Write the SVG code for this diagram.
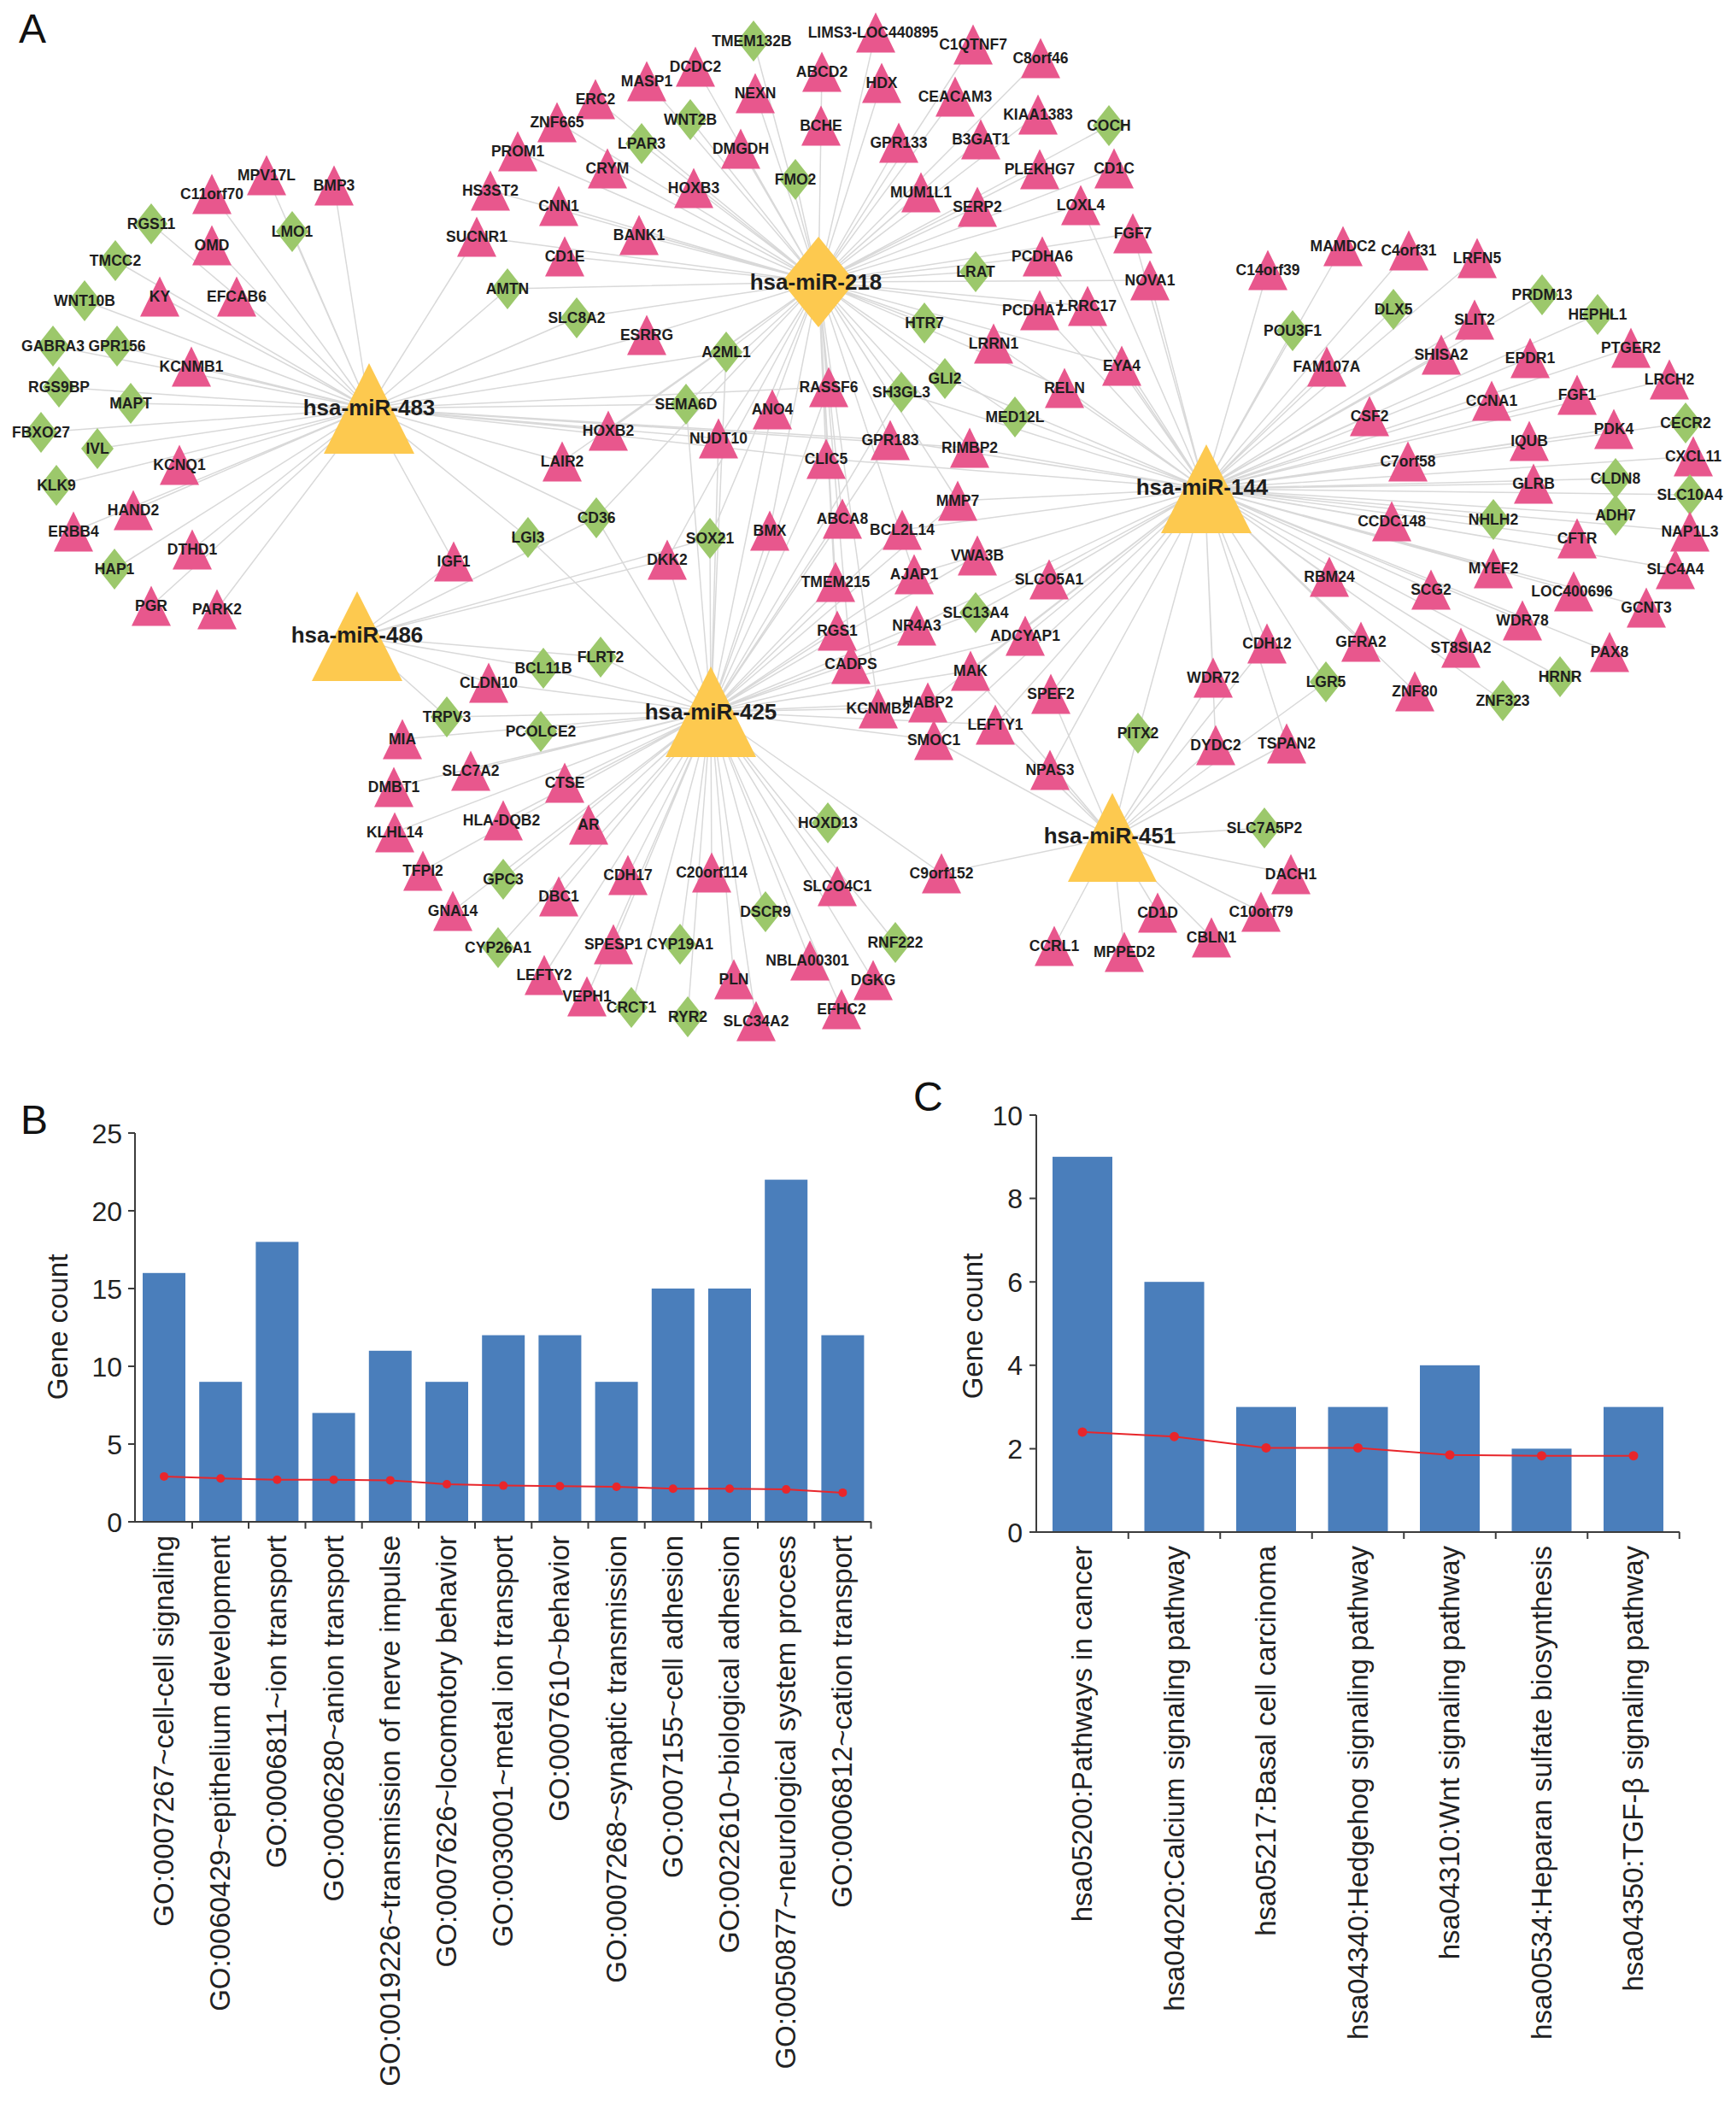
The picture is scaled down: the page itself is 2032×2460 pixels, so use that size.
<svg xmlns="http://www.w3.org/2000/svg" xmlns:xlink="http://www.w3.org/1999/xlink" width="2032" height="2460" viewBox="0 0 2032 2460">
<style>
.l{font:700 17.5px "Liberation Sans",Arial,sans-serif;text-anchor:middle;fill:#1e1e1e}
.h{font:700 26px "Liberation Sans",Arial,sans-serif;text-anchor:middle;fill:#1e1e1e}
.e{fill:none;stroke:#d9d9d9;stroke-width:1.5}
.ax{fill:none;stroke:#3c3c3c;stroke-width:2}
.tk{font:32px "Liberation Sans",Arial,sans-serif;fill:#222;text-anchor:end}
.cl{font:33px "Liberation Sans",Arial,sans-serif;fill:#222;text-anchor:end}
.gc{font:33px "Liberation Sans",Arial,sans-serif;fill:#222;text-anchor:middle}
.pl{font:48px "Liberation Sans",Arial,sans-serif;fill:#111}
.bar{fill:#4A7EBB}
.rl{fill:none;stroke:#E8262B;stroke-width:2}
.rd{fill:#E8262B}
.hub{fill:#FDC94F}
</style>
<defs>
<path id="t" d="M0-23.5L23 23.5L-23 23.5Z" fill="#E8578D"/>
<path id="d" d="M0-24L19 0L0 24L-19 0Z" fill="#9CC86B"/>
</defs>
<rect width="2032" height="2460" fill="#fff"/>
<text class="pl" x="22" y="50">A</text>
<g id="connectors">
<path class="e" d="M958 330L882 48M958 330L1025 38M958 330L1139 52M958 330L1218 68M958 330L814 78M958 330L757 95M958 330L962 84M958 330L1032 97M958 330L884 109M958 330L697 116M958 330L1118 113M958 330L652 143M958 330L808 140M958 330L1215 134M958 330L1298 147M958 330L961 147M958 330L606 177M958 330L751 168M958 330L867 174M958 330L1052 167M958 330L1148 163M958 330L711 197M958 330L1217 198M958 330L1304 197M958 330L931 210M958 330L574 223M958 330L812 220M958 330L1078 225M958 330L1144 242M958 330L654 241M958 330L1265 240M958 330L558 277M958 330L748 275M958 330L1326 273M958 330L661 300M958 330L1220 300M958 330L1142 318M958 330L1346 328M958 330L594 338M958 330L1217 363M958 330L1273 358M958 330L675 372M958 330L1082 378M958 330L757 392M958 330L1163 402M958 330L850 412M958 330L1313 428M958 330L1246 454M958 330L1106 443M958 330L1055 459M958 330L970 453M958 330L803 473M958 330L904 479M958 330L1188 488M958 330L841 513M958 330L1042 515M958 330L1135 524M958 330L967 537M958 330L1121 586M958 330L986 607M958 330L901 621M958 330L978 681M958 330L1070 672M958 330L980 738M958 330L996 777M958 330L1028 829M958 330L831 630M958 330L712 504M958 330L658 540M958 330L698 606M958 330L781 655"/>
<path class="e" d="M432 478L312 205M432 478L391 217M432 478L248 227M432 478L342 271M432 478L177 262M432 478L248 287M432 478L135 305M432 478L187 347M432 478L277 347M432 478L99 352M432 478L62 405M432 478L137 405M432 478L224 429M432 478L69 453M432 478L153 472M432 478L48 506M432 478L114 525M432 478L210 544M432 478L66 568M432 478L156 597M432 478L86 622M432 478L225 643M432 478L134 666M432 478L177 709M432 478L254 713M432 478L531 657M432 478L618 629M432 478L658 540M432 478L712 504M432 478L558 277M432 478L594 338M432 478L675 372M432 478L757 392M432 478L850 412M432 478L803 473M432 478L841 513M432 478L967 537M432 478L698 606M432 478L970 453M432 478L1042 515M432 478L1135 524"/>
<path class="e" d="M418 745L531 657M418 745L572 799M418 745L636 782M418 745L703 769M418 745L781 655M418 745L831 630M418 745L523 839M418 745L698 606"/>
<path class="e" d="M832 833L523 839M832 833L633 856M832 833L471 865M832 833L551 902M832 833L661 916M832 833L461 921M832 833L589 960M832 833L689 965M832 833L462 974M832 833L495 1019M832 833L589 1029M832 833L654 1049M832 833L530 1066M832 833L583 1109M832 833L637 1141M832 833L687 1166M832 833L735 1024M832 833L833 1021M832 833L980 1037M832 833L969 963M832 833L1102 1022M832 833L896 1067M832 833L718 1105M832 833L796 1105M832 833L1048 1103M832 833L948 1124M832 833L859 1146M832 833L1022 1147M832 833L739 1179M832 833L805 1190M832 833L885 1195M832 833L985 1181M832 833L572 799M832 833L636 782M832 833L703 769M832 833L618 629M832 833L698 606M832 833L831 630M832 833L781 655M832 833L901 621M832 833L841 513M832 833L803 473M832 833L904 479M832 833L970 453M832 833L967 537M832 833L986 607M832 833L978 681M832 833L980 738M832 833L996 777M832 833L1028 829M832 833L1086 822M832 833L1093 866M832 833L1073 732M832 833L1070 672M832 833L1056 620M832 833L1136 785M832 833L1165 848M832 833L1200 744M832 833L1142 717M832 833L1144 650M832 833L1121 586M832 833L1042 515M832 833L1055 459M832 833L850 412"/>
<path class="e" d="M1410 572L1484 316M1410 572L1572 288M1410 572L1649 293M1410 572L1729 302M1410 572L1805 345M1410 572L1631 362M1410 572L1870 368M1410 572L1726 374M1410 572L1513 387M1410 572L1909 407M1410 572L1687 415M1410 572L1791 419M1410 572L1553 429M1410 572L1954 444M1410 572L1746 469M1410 572L1846 462M1410 572L1603 487M1410 572L1973 495M1410 572L1889 502M1410 572L1790 516M1410 572L1982 534M1410 572L1648 540M1410 572L1795 566M1410 572L1891 560M1410 572L1978 579M1410 572L1891 603M1410 572L1629 610M1410 572L1748 608M1410 572L1978 622M1410 572L1846 630M1410 572L1748 665M1410 572L1961 666M1410 572L1556 675M1410 572L1675 690M1410 572L1842 692M1410 572L1927 711M1410 572L1782 726M1410 572L1593 751M1410 572L1710 758M1410 572L1884 763M1410 572L1552 798M1410 572L1826 792M1410 572L1656 809M1410 572L1759 820M1410 572L1483 753M1410 572L1420 793M1410 572L1423 872M1410 572L1506 870M1410 572L1326 273M1410 572L1346 328M1410 572L1313 428M1410 572L1246 454M1410 572L1188 488M1410 572L1135 524M1410 572L1163 402M1410 572L1273 358M1410 572L1217 363M1410 572L1106 443M1410 572L1055 459M1410 572L1042 515M1410 572L1121 586M1410 572L1144 650M1410 572L1228 678M1410 572L1142 717M1410 572L1200 744M1410 572L1136 785M1410 572L1230 812M1410 572L1229 901M1410 572L1056 620M1410 572L1070 672M1410 572L1073 732M1410 572L1165 848M1410 572L1093 866M1410 572L1086 822M1410 572L967 537M1410 572L1332 858M1410 572L1220 300M1410 572L1265 240"/>
<path class="e" d="M1302 980L1102 1022M1302 980L1229 901M1302 980L1332 858M1302 980L1234 1107M1302 980L1316 1114M1302 980L1355 1068M1302 980L1418 1097M1302 980L1476 1067M1302 980L1511 1023M1302 980L1480 969M1302 980L1423 872M1302 980L1506 870M1302 980L1420 793M1302 980L1483 753M1302 980L1230 812M1302 980L1165 848M1302 980L1093 866M1302 980L1136 785M1302 980L1552 798"/>
</g>
<g id="targets">
<g id="n-MPV17L"><use href="#t" x="312" y="205"/><text class="l" x="312" y="211">MPV17L</text></g>
<g id="n-BMP3"><use href="#t" x="391" y="217"/><text class="l" x="391" y="223">BMP3</text></g>
<g id="n-C11orf70"><use href="#t" x="248" y="227"/><text class="l" x="248" y="233">C11orf70</text></g>
<g id="n-LMO1"><use href="#d" x="342" y="271"/><text class="l" x="342" y="277">LMO1</text></g>
<g id="n-RGS11"><use href="#d" x="177" y="262"/><text class="l" x="177" y="268">RGS11</text></g>
<g id="n-OMD"><use href="#t" x="248" y="287"/><text class="l" x="248" y="293">OMD</text></g>
<g id="n-TMCC2"><use href="#d" x="135" y="305"/><text class="l" x="135" y="311">TMCC2</text></g>
<g id="n-KY"><use href="#t" x="187" y="347"/><text class="l" x="187" y="353">KY</text></g>
<g id="n-EFCAB6"><use href="#t" x="277" y="347"/><text class="l" x="277" y="353">EFCAB6</text></g>
<g id="n-WNT10B"><use href="#d" x="99" y="352"/><text class="l" x="99" y="358">WNT10B</text></g>
<g id="n-GABRA3"><use href="#d" x="62" y="405"/><text class="l" x="62" y="411">GABRA3</text></g>
<g id="n-GPR156"><use href="#d" x="137" y="405"/><text class="l" x="137" y="411">GPR156</text></g>
<g id="n-KCNMB1"><use href="#t" x="224" y="429"/><text class="l" x="224" y="435">KCNMB1</text></g>
<g id="n-RGS9BP"><use href="#d" x="69" y="453"/><text class="l" x="69" y="459">RGS9BP</text></g>
<g id="n-MAPT"><use href="#d" x="153" y="472"/><text class="l" x="153" y="478">MAPT</text></g>
<g id="n-FBXO27"><use href="#d" x="48" y="506"/><text class="l" x="48" y="512">FBXO27</text></g>
<g id="n-IVL"><use href="#d" x="114" y="525"/><text class="l" x="114" y="531">IVL</text></g>
<g id="n-KCNQ1"><use href="#t" x="210" y="544"/><text class="l" x="210" y="550">KCNQ1</text></g>
<g id="n-KLK9"><use href="#d" x="66" y="568"/><text class="l" x="66" y="574">KLK9</text></g>
<g id="n-HAND2"><use href="#t" x="156" y="597"/><text class="l" x="156" y="603">HAND2</text></g>
<g id="n-ERBB4"><use href="#t" x="86" y="622"/><text class="l" x="86" y="628">ERBB4</text></g>
<g id="n-DTHD1"><use href="#t" x="225" y="643"/><text class="l" x="225" y="649">DTHD1</text></g>
<g id="n-HAP1"><use href="#d" x="134" y="666"/><text class="l" x="134" y="672">HAP1</text></g>
<g id="n-PGR"><use href="#t" x="177" y="709"/><text class="l" x="177" y="715">PGR</text></g>
<g id="n-PARK2"><use href="#t" x="254" y="713"/><text class="l" x="254" y="719">PARK2</text></g>
<g id="n-IGF1"><use href="#t" x="531" y="657"/><text class="l" x="531" y="663">IGF1</text></g>
<g id="n-LGI3"><use href="#d" x="618" y="629"/><text class="l" x="618" y="635">LGI3</text></g>
<g id="n-LAIR2"><use href="#t" x="658" y="540"/><text class="l" x="658" y="546">LAIR2</text></g>
<g id="n-TMEM132B"><use href="#d" x="882" y="48"/><text class="l" x="880" y="54">TMEM132B</text></g>
<g id="n-LIMS3-LOC440895"><use href="#t" x="1025" y="38"/><text class="l" x="1022" y="44">LIMS3-LOC440895</text></g>
<g id="n-C1QTNF7"><use href="#t" x="1139" y="52"/><text class="l" x="1139" y="58">C1QTNF7</text></g>
<g id="n-C8orf46"><use href="#t" x="1218" y="68"/><text class="l" x="1218" y="74">C8orf46</text></g>
<g id="n-DCDC2"><use href="#t" x="814" y="78"/><text class="l" x="814" y="84">DCDC2</text></g>
<g id="n-MASP1"><use href="#t" x="757" y="95"/><text class="l" x="757" y="101">MASP1</text></g>
<g id="n-ABCD2"><use href="#t" x="962" y="84"/><text class="l" x="962" y="90">ABCD2</text></g>
<g id="n-HDX"><use href="#t" x="1032" y="97"/><text class="l" x="1032" y="103">HDX</text></g>
<g id="n-NEXN"><use href="#t" x="884" y="109"/><text class="l" x="884" y="115">NEXN</text></g>
<g id="n-ERC2"><use href="#t" x="697" y="116"/><text class="l" x="697" y="122">ERC2</text></g>
<g id="n-CEACAM3"><use href="#t" x="1118" y="113"/><text class="l" x="1118" y="119">CEACAM3</text></g>
<g id="n-ZNF665"><use href="#t" x="652" y="143"/><text class="l" x="652" y="149">ZNF665</text></g>
<g id="n-WNT2B"><use href="#d" x="808" y="140"/><text class="l" x="808" y="146">WNT2B</text></g>
<g id="n-KIAA1383"><use href="#t" x="1215" y="134"/><text class="l" x="1215" y="140">KIAA1383</text></g>
<g id="n-COCH"><use href="#d" x="1298" y="147"/><text class="l" x="1298" y="153">COCH</text></g>
<g id="n-BCHE"><use href="#t" x="961" y="147"/><text class="l" x="961" y="153">BCHE</text></g>
<g id="n-PROM1"><use href="#t" x="606" y="177"/><text class="l" x="606" y="183">PROM1</text></g>
<g id="n-LPAR3"><use href="#d" x="751" y="168"/><text class="l" x="751" y="174">LPAR3</text></g>
<g id="n-DMGDH"><use href="#t" x="867" y="174"/><text class="l" x="867" y="180">DMGDH</text></g>
<g id="n-GPR133"><use href="#t" x="1052" y="167"/><text class="l" x="1052" y="173">GPR133</text></g>
<g id="n-B3GAT1"><use href="#t" x="1148" y="163"/><text class="l" x="1148" y="169">B3GAT1</text></g>
<g id="n-CRYM"><use href="#t" x="711" y="197"/><text class="l" x="711" y="203">CRYM</text></g>
<g id="n-PLEKHG7"><use href="#t" x="1217" y="198"/><text class="l" x="1217" y="204">PLEKHG7</text></g>
<g id="n-CD1C"><use href="#t" x="1304" y="197"/><text class="l" x="1304" y="203">CD1C</text></g>
<g id="n-FMO2"><use href="#d" x="931" y="210"/><text class="l" x="931" y="216">FMO2</text></g>
<g id="n-HS3ST2"><use href="#t" x="574" y="223"/><text class="l" x="574" y="229">HS3ST2</text></g>
<g id="n-HOXB3"><use href="#t" x="812" y="220"/><text class="l" x="812" y="226">HOXB3</text></g>
<g id="n-MUM1L1"><use href="#t" x="1078" y="225"/><text class="l" x="1078" y="231">MUM1L1</text></g>
<g id="n-SERP2"><use href="#t" x="1144" y="242"/><text class="l" x="1144" y="248">SERP2</text></g>
<g id="n-CNN1"><use href="#t" x="654" y="241"/><text class="l" x="654" y="247">CNN1</text></g>
<g id="n-LOXL4"><use href="#t" x="1265" y="240"/><text class="l" x="1265" y="246">LOXL4</text></g>
<g id="n-SUCNR1"><use href="#t" x="558" y="277"/><text class="l" x="558" y="283">SUCNR1</text></g>
<g id="n-BANK1"><use href="#t" x="748" y="275"/><text class="l" x="748" y="281">BANK1</text></g>
<g id="n-FGF7"><use href="#t" x="1326" y="273"/><text class="l" x="1326" y="279">FGF7</text></g>
<g id="n-CD1E"><use href="#t" x="661" y="300"/><text class="l" x="661" y="306">CD1E</text></g>
<g id="n-PCDHA6"><use href="#t" x="1220" y="300"/><text class="l" x="1220" y="306">PCDHA6</text></g>
<g id="n-LRAT"><use href="#d" x="1142" y="318"/><text class="l" x="1142" y="324">LRAT</text></g>
<g id="n-NOVA1"><use href="#t" x="1346" y="328"/><text class="l" x="1346" y="334">NOVA1</text></g>
<g id="n-AMTN"><use href="#d" x="594" y="338"/><text class="l" x="594" y="344">AMTN</text></g>
<g id="n-PCDHA7"><use href="#t" x="1217" y="363"/><text class="l" x="1209" y="369">PCDHA7</text></g>
<g id="n-LRRC17"><use href="#t" x="1273" y="358"/><text class="l" x="1273" y="364">LRRC17</text></g>
<g id="n-SLC8A2"><use href="#d" x="675" y="372"/><text class="l" x="675" y="378">SLC8A2</text></g>
<g id="n-HTR7"><use href="#d" x="1082" y="378"/><text class="l" x="1082" y="384">HTR7</text></g>
<g id="n-ESRRG"><use href="#t" x="757" y="392"/><text class="l" x="757" y="398">ESRRG</text></g>
<g id="n-LRRN1"><use href="#t" x="1163" y="402"/><text class="l" x="1163" y="408">LRRN1</text></g>
<g id="n-A2ML1"><use href="#d" x="850" y="412"/><text class="l" x="850" y="418">A2ML1</text></g>
<g id="n-EYA4"><use href="#t" x="1313" y="428"/><text class="l" x="1313" y="434">EYA4</text></g>
<g id="n-RELN"><use href="#t" x="1246" y="454"/><text class="l" x="1246" y="460">RELN</text></g>
<g id="n-GLI2"><use href="#d" x="1106" y="443"/><text class="l" x="1106" y="449">GLI2</text></g>
<g id="n-SH3GL3"><use href="#d" x="1055" y="459"/><text class="l" x="1055" y="465">SH3GL3</text></g>
<g id="n-RASSF6"><use href="#t" x="970" y="453"/><text class="l" x="970" y="459">RASSF6</text></g>
<g id="n-SEMA6D"><use href="#d" x="803" y="473"/><text class="l" x="803" y="479">SEMA6D</text></g>
<g id="n-ANO4"><use href="#t" x="904" y="479"/><text class="l" x="904" y="485">ANO4</text></g>
<g id="n-MED12L"><use href="#d" x="1188" y="488"/><text class="l" x="1188" y="494">MED12L</text></g>
<g id="n-HOXB2"><use href="#t" x="712" y="504"/><text class="l" x="712" y="510">HOXB2</text></g>
<g id="n-NUDT10"><use href="#t" x="841" y="513"/><text class="l" x="841" y="519">NUDT10</text></g>
<g id="n-GPR183"><use href="#t" x="1042" y="515"/><text class="l" x="1042" y="521">GPR183</text></g>
<g id="n-RIMBP2"><use href="#t" x="1135" y="524"/><text class="l" x="1135" y="530">RIMBP2</text></g>
<g id="n-CLIC5"><use href="#t" x="967" y="537"/><text class="l" x="967" y="543">CLIC5</text></g>
<g id="n-MMP7"><use href="#t" x="1121" y="586"/><text class="l" x="1121" y="592">MMP7</text></g>
<g id="n-CD36"><use href="#d" x="698" y="606"/><text class="l" x="698" y="612">CD36</text></g>
<g id="n-ABCA8"><use href="#t" x="986" y="607"/><text class="l" x="986" y="613">ABCA8</text></g>
<g id="n-BCL2L14"><use href="#t" x="1056" y="620"/><text class="l" x="1056" y="626">BCL2L14</text></g>
<g id="n-BMX"><use href="#t" x="901" y="621"/><text class="l" x="901" y="627">BMX</text></g>
<g id="n-SOX21"><use href="#d" x="831" y="630"/><text class="l" x="831" y="636">SOX21</text></g>
<g id="n-DKK2"><use href="#t" x="781" y="655"/><text class="l" x="781" y="661">DKK2</text></g>
<g id="n-VWA3B"><use href="#t" x="1144" y="650"/><text class="l" x="1144" y="656">VWA3B</text></g>
<g id="n-TMEM215"><use href="#t" x="978" y="681"/><text class="l" x="978" y="687">TMEM215</text></g>
<g id="n-AJAP1"><use href="#t" x="1070" y="672"/><text class="l" x="1070" y="678">AJAP1</text></g>
<g id="n-SLCO5A1"><use href="#t" x="1228" y="678"/><text class="l" x="1228" y="684">SLCO5A1</text></g>
<g id="n-SLC13A4"><use href="#d" x="1142" y="717"/><text class="l" x="1142" y="723">SLC13A4</text></g>
<g id="n-RGS1"><use href="#t" x="980" y="738"/><text class="l" x="980" y="744">RGS1</text></g>
<g id="n-NR4A3"><use href="#t" x="1073" y="732"/><text class="l" x="1073" y="738">NR4A3</text></g>
<g id="n-ADCYAP1"><use href="#t" x="1200" y="744"/><text class="l" x="1200" y="750">ADCYAP1</text></g>
<g id="n-FLRT2"><use href="#d" x="703" y="769"/><text class="l" x="703" y="775">FLRT2</text></g>
<g id="n-CADPS"><use href="#t" x="996" y="777"/><text class="l" x="996" y="783">CADPS</text></g>
<g id="n-MAK"><use href="#t" x="1136" y="785"/><text class="l" x="1136" y="791">MAK</text></g>
<g id="n-SPEF2"><use href="#t" x="1230" y="812"/><text class="l" x="1230" y="818">SPEF2</text></g>
<g id="n-HABP2"><use href="#t" x="1086" y="822"/><text class="l" x="1086" y="828">HABP2</text></g>
<g id="n-KCNMB2"><use href="#t" x="1028" y="829"/><text class="l" x="1028" y="835">KCNMB2</text></g>
<g id="n-LEFTY1"><use href="#t" x="1165" y="848"/><text class="l" x="1165" y="854">LEFTY1</text></g>
<g id="n-SMOC1"><use href="#t" x="1093" y="866"/><text class="l" x="1093" y="872">SMOC1</text></g>
<g id="n-NPAS3"><use href="#t" x="1229" y="901"/><text class="l" x="1229" y="907">NPAS3</text></g>
<g id="n-PITX2"><use href="#d" x="1332" y="858"/><text class="l" x="1332" y="864">PITX2</text></g>
<g id="n-BCL11B"><use href="#d" x="636" y="782"/><text class="l" x="636" y="788">BCL11B</text></g>
<g id="n-CLDN10"><use href="#t" x="572" y="799"/><text class="l" x="572" y="805">CLDN10</text></g>
<g id="n-TRPV3"><use href="#d" x="523" y="839"/><text class="l" x="523" y="845">TRPV3</text></g>
<g id="n-PCOLCE2"><use href="#d" x="633" y="856"/><text class="l" x="633" y="862">PCOLCE2</text></g>
<g id="n-MIA"><use href="#t" x="471" y="865"/><text class="l" x="471" y="871">MIA</text></g>
<g id="n-SLC7A2"><use href="#t" x="551" y="902"/><text class="l" x="551" y="908">SLC7A2</text></g>
<g id="n-CTSE"><use href="#t" x="661" y="916"/><text class="l" x="661" y="922">CTSE</text></g>
<g id="n-DMBT1"><use href="#t" x="461" y="921"/><text class="l" x="461" y="927">DMBT1</text></g>
<g id="n-HLA-DQB2"><use href="#t" x="589" y="960"/><text class="l" x="587" y="966">HLA-DQB2</text></g>
<g id="n-AR"><use href="#t" x="689" y="965"/><text class="l" x="689" y="971">AR</text></g>
<g id="n-KLHL14"><use href="#t" x="462" y="974"/><text class="l" x="462" y="980">KLHL14</text></g>
<g id="n-TFPI2"><use href="#t" x="495" y="1019"/><text class="l" x="495" y="1025">TFPI2</text></g>
<g id="n-GPC3"><use href="#d" x="589" y="1029"/><text class="l" x="589" y="1035">GPC3</text></g>
<g id="n-DBC1"><use href="#t" x="654" y="1049"/><text class="l" x="654" y="1055">DBC1</text></g>
<g id="n-GNA14"><use href="#t" x="530" y="1066"/><text class="l" x="530" y="1072">GNA14</text></g>
<g id="n-CYP26A1"><use href="#d" x="583" y="1109"/><text class="l" x="583" y="1115">CYP26A1</text></g>
<g id="n-LEFTY2"><use href="#t" x="637" y="1141"/><text class="l" x="637" y="1147">LEFTY2</text></g>
<g id="n-VEPH1"><use href="#t" x="687" y="1166"/><text class="l" x="687" y="1172">VEPH1</text></g>
<g id="n-CDH17"><use href="#t" x="735" y="1024"/><text class="l" x="735" y="1030">CDH17</text></g>
<g id="n-C20orf114"><use href="#t" x="833" y="1021"/><text class="l" x="833" y="1027">C20orf114</text></g>
<g id="n-SLCO4C1"><use href="#t" x="980" y="1037"/><text class="l" x="980" y="1043">SLCO4C1</text></g>
<g id="n-HOXD13"><use href="#d" x="969" y="963"/><text class="l" x="969" y="969">HOXD13</text></g>
<g id="n-C9orf152"><use href="#t" x="1102" y="1022"/><text class="l" x="1102" y="1028">C9orf152</text></g>
<g id="n-DSCR9"><use href="#d" x="896" y="1067"/><text class="l" x="896" y="1073">DSCR9</text></g>
<g id="n-SPESP1"><use href="#t" x="718" y="1105"/><text class="l" x="718" y="1111">SPESP1</text></g>
<g id="n-CYP19A1"><use href="#d" x="796" y="1105"/><text class="l" x="796" y="1111">CYP19A1</text></g>
<g id="n-RNF222"><use href="#d" x="1048" y="1103"/><text class="l" x="1048" y="1109">RNF222</text></g>
<g id="n-NBLA00301"><use href="#t" x="948" y="1124"/><text class="l" x="945" y="1130">NBLA00301</text></g>
<g id="n-PLN"><use href="#t" x="859" y="1146"/><text class="l" x="859" y="1152">PLN</text></g>
<g id="n-DGKG"><use href="#t" x="1022" y="1147"/><text class="l" x="1022" y="1153">DGKG</text></g>
<g id="n-CRCT1"><use href="#d" x="739" y="1179"/><text class="l" x="739" y="1185">CRCT1</text></g>
<g id="n-RYR2"><use href="#d" x="805" y="1190"/><text class="l" x="805" y="1196">RYR2</text></g>
<g id="n-SLC34A2"><use href="#t" x="885" y="1195"/><text class="l" x="885" y="1201">SLC34A2</text></g>
<g id="n-EFHC2"><use href="#t" x="985" y="1181"/><text class="l" x="985" y="1187">EFHC2</text></g>
<g id="n-CCRL1"><use href="#t" x="1234" y="1107"/><text class="l" x="1234" y="1113">CCRL1</text></g>
<g id="n-MPPED2"><use href="#t" x="1316" y="1114"/><text class="l" x="1316" y="1120">MPPED2</text></g>
<g id="n-CD1D"><use href="#t" x="1355" y="1068"/><text class="l" x="1355" y="1074">CD1D</text></g>
<g id="n-CBLN1"><use href="#t" x="1418" y="1097"/><text class="l" x="1418" y="1103">CBLN1</text></g>
<g id="n-C10orf79"><use href="#t" x="1476" y="1067"/><text class="l" x="1476" y="1073">C10orf79</text></g>
<g id="n-DACH1"><use href="#t" x="1511" y="1023"/><text class="l" x="1511" y="1029">DACH1</text></g>
<g id="n-SLC7A5P2"><use href="#d" x="1480" y="969"/><text class="l" x="1480" y="975">SLC7A5P2</text></g>
<g id="n-DYDC2"><use href="#t" x="1423" y="872"/><text class="l" x="1423" y="878">DYDC2</text></g>
<g id="n-TSPAN2"><use href="#t" x="1506" y="870"/><text class="l" x="1506" y="876">TSPAN2</text></g>
<g id="n-WDR72"><use href="#t" x="1420" y="793"/><text class="l" x="1420" y="799">WDR72</text></g>
<g id="n-CDH12"><use href="#t" x="1483" y="753"/><text class="l" x="1483" y="759">CDH12</text></g>
<g id="n-C14orf39"><use href="#t" x="1484" y="316"/><text class="l" x="1484" y="322">C14orf39</text></g>
<g id="n-MAMDC2"><use href="#t" x="1572" y="288"/><text class="l" x="1572" y="294">MAMDC2</text></g>
<g id="n-C4orf31"><use href="#t" x="1649" y="293"/><text class="l" x="1649" y="299">C4orf31</text></g>
<g id="n-LRFN5"><use href="#t" x="1729" y="302"/><text class="l" x="1729" y="308">LRFN5</text></g>
<g id="n-PRDM13"><use href="#d" x="1805" y="345"/><text class="l" x="1805" y="351">PRDM13</text></g>
<g id="n-DLX5"><use href="#d" x="1631" y="362"/><text class="l" x="1631" y="368">DLX5</text></g>
<g id="n-HEPHL1"><use href="#d" x="1870" y="368"/><text class="l" x="1870" y="374">HEPHL1</text></g>
<g id="n-SLIT2"><use href="#t" x="1726" y="374"/><text class="l" x="1726" y="380">SLIT2</text></g>
<g id="n-POU3F1"><use href="#d" x="1513" y="387"/><text class="l" x="1513" y="393">POU3F1</text></g>
<g id="n-PTGER2"><use href="#t" x="1909" y="407"/><text class="l" x="1909" y="413">PTGER2</text></g>
<g id="n-SHISA2"><use href="#t" x="1687" y="415"/><text class="l" x="1687" y="421">SHISA2</text></g>
<g id="n-EPDR1"><use href="#t" x="1791" y="419"/><text class="l" x="1791" y="425">EPDR1</text></g>
<g id="n-FAM107A"><use href="#t" x="1553" y="429"/><text class="l" x="1553" y="435">FAM107A</text></g>
<g id="n-LRCH2"><use href="#t" x="1954" y="444"/><text class="l" x="1954" y="450">LRCH2</text></g>
<g id="n-CCNA1"><use href="#t" x="1746" y="469"/><text class="l" x="1746" y="475">CCNA1</text></g>
<g id="n-FGF1"><use href="#t" x="1846" y="462"/><text class="l" x="1846" y="468">FGF1</text></g>
<g id="n-CSF2"><use href="#t" x="1603" y="487"/><text class="l" x="1603" y="493">CSF2</text></g>
<g id="n-CECR2"><use href="#d" x="1973" y="495"/><text class="l" x="1973" y="501">CECR2</text></g>
<g id="n-PDK4"><use href="#t" x="1889" y="502"/><text class="l" x="1889" y="508">PDK4</text></g>
<g id="n-IQUB"><use href="#t" x="1790" y="516"/><text class="l" x="1790" y="522">IQUB</text></g>
<g id="n-CXCL11"><use href="#t" x="1982" y="534"/><text class="l" x="1982" y="540">CXCL11</text></g>
<g id="n-C7orf58"><use href="#t" x="1648" y="540"/><text class="l" x="1648" y="546">C7orf58</text></g>
<g id="n-GLRB"><use href="#t" x="1795" y="566"/><text class="l" x="1795" y="572">GLRB</text></g>
<g id="n-CLDN8"><use href="#d" x="1891" y="560"/><text class="l" x="1891" y="566">CLDN8</text></g>
<g id="n-SLC10A4"><use href="#d" x="1978" y="579"/><text class="l" x="1978" y="585">SLC10A4</text></g>
<g id="n-ADH7"><use href="#d" x="1891" y="603"/><text class="l" x="1891" y="609">ADH7</text></g>
<g id="n-CCDC148"><use href="#t" x="1629" y="610"/><text class="l" x="1629" y="616">CCDC148</text></g>
<g id="n-NHLH2"><use href="#d" x="1748" y="608"/><text class="l" x="1748" y="614">NHLH2</text></g>
<g id="n-NAP1L3"><use href="#t" x="1978" y="622"/><text class="l" x="1978" y="628">NAP1L3</text></g>
<g id="n-CFTR"><use href="#t" x="1846" y="630"/><text class="l" x="1846" y="636">CFTR</text></g>
<g id="n-MYEF2"><use href="#t" x="1748" y="665"/><text class="l" x="1748" y="671">MYEF2</text></g>
<g id="n-SLC4A4"><use href="#t" x="1961" y="666"/><text class="l" x="1961" y="672">SLC4A4</text></g>
<g id="n-RBM24"><use href="#t" x="1556" y="675"/><text class="l" x="1556" y="681">RBM24</text></g>
<g id="n-SCG2"><use href="#t" x="1675" y="690"/><text class="l" x="1675" y="696">SCG2</text></g>
<g id="n-LOC400696"><use href="#t" x="1842" y="692"/><text class="l" x="1840" y="698">LOC400696</text></g>
<g id="n-GCNT3"><use href="#t" x="1927" y="711"/><text class="l" x="1927" y="717">GCNT3</text></g>
<g id="n-WDR78"><use href="#t" x="1782" y="726"/><text class="l" x="1782" y="732">WDR78</text></g>
<g id="n-GFRA2"><use href="#t" x="1593" y="751"/><text class="l" x="1593" y="757">GFRA2</text></g>
<g id="n-ST8SIA2"><use href="#t" x="1710" y="758"/><text class="l" x="1710" y="764">ST8SIA2</text></g>
<g id="n-PAX8"><use href="#t" x="1884" y="763"/><text class="l" x="1884" y="769">PAX8</text></g>
<g id="n-LGR5"><use href="#d" x="1552" y="798"/><text class="l" x="1552" y="804">LGR5</text></g>
<g id="n-HRNR"><use href="#d" x="1826" y="792"/><text class="l" x="1826" y="798">HRNR</text></g>
<g id="n-ZNF80"><use href="#t" x="1656" y="809"/><text class="l" x="1656" y="815">ZNF80</text></g>
<g id="n-ZNF323"><use href="#d" x="1759" y="820"/><text class="l" x="1759" y="826">ZNF323</text></g>
</g>
<g id="hubs">
<g id="hub-218"><path class="hub" d="M958 277L1001 330L958 383L915 330Z"/><text class="h" x="955" y="339">hsa-miR-218</text></g>
<g id="hub-483"><path class="hub" d="M432 425L485 531L379 531Z"/><text class="h" x="432" y="486">hsa-miR-483</text></g>
<g id="hub-486"><path class="hub" d="M418 692L471 797L365 797Z"/><text class="h" x="418" y="752">hsa-miR-486</text></g>
<g id="hub-425"><path class="hub" d="M832 780L885 886L779 886Z"/><text class="h" x="832" y="842">hsa-miR-425</text></g>
<g id="hub-144"><path class="hub" d="M1412 520L1465 624L1359 624Z"/><text class="h" x="1407" y="579">hsa-miR-144</text></g>
<g id="hub-451"><path class="hub" d="M1302 928L1354 1032L1250 1032Z"/><text class="h" x="1299" y="987">hsa-miR-451</text></g>
</g>
<g id="chartB">
<text class="pl" x="24" y="1327">B</text>
<g class="bar">
<rect x="167" y="1489.8" width="50" height="291.2"/>
<rect x="233.2" y="1617.2" width="50" height="163.8"/>
<rect x="299.4" y="1453.4" width="50" height="327.6"/>
<rect x="365.6" y="1653.6" width="50" height="127.4"/>
<rect x="431.8" y="1580.8" width="50" height="200.2"/>
<rect x="498" y="1617.2" width="50" height="163.8"/>
<rect x="564.2" y="1562.6" width="50" height="218.4"/>
<rect x="630.4" y="1562.6" width="50" height="218.4"/>
<rect x="696.6" y="1617.2" width="50" height="163.8"/>
<rect x="762.8" y="1508" width="50" height="273"/>
<rect x="829" y="1508" width="50" height="273"/>
<rect x="895.2" y="1380.6" width="50" height="400.4"/>
<rect x="961.4" y="1562.6" width="50" height="218.4"/>
</g>
<path class="ax" d="M158 1326V1781H1020M150 1326H158M150 1417H158M150 1508H158M150 1599H158M150 1690H158M150 1781H158M225 1781v8M291 1781v8M357.5 1781v8M423.7 1781v8M490 1781v8M556 1781v8M622.3 1781v8M688.5 1781v8M754.7 1781v8M821 1781v8M887 1781v8M953.3 1781v8M1019.5 1781v8"/>
<polyline class="rl" points="192,1727.9 258.2,1730.2 324.4,1731.7 390.6,1731.7 456.8,1732.4 523,1737 589.2,1738.6 655.4,1739.3 721.6,1740 787.8,1742.2 854,1742.2 920.2,1743.1 986.4,1746.9"/>
<g class="rd">
<circle cx="192" cy="1727.9" r="5"/><circle cx="258.2" cy="1730.2" r="5"/><circle cx="324.4" cy="1731.7" r="5"/><circle cx="390.6" cy="1731.7" r="5"/><circle cx="456.8" cy="1732.4" r="5"/><circle cx="523" cy="1737" r="5"/><circle cx="589.2" cy="1738.6" r="5"/><circle cx="655.4" cy="1739.3" r="5"/><circle cx="721.6" cy="1740" r="5"/><circle cx="787.8" cy="1742.2" r="5"/><circle cx="854" cy="1742.2" r="5"/><circle cx="920.2" cy="1743.1" r="5"/><circle cx="986.4" cy="1746.9" r="5"/>
</g>
<text class="tk" x="143" y="1337.5">25</text>
<text class="tk" x="143" y="1428.5">20</text>
<text class="tk" x="143" y="1519.5">15</text>
<text class="tk" x="143" y="1610.5">10</text>
<text class="tk" x="143" y="1701.5">5</text>
<text class="tk" x="143" y="1792.5">0</text>
<text class="gc" transform="translate(79,1553) rotate(-90)">Gene count</text>
<text class="cl" transform="translate(203,1797) rotate(-90)">GO:0007267~cell-cell signaling</text>
<text class="cl" transform="translate(269.2,1797) rotate(-90)">GO:0060429~epithelium development</text>
<text class="cl" transform="translate(335.4,1797) rotate(-90)">GO:0006811~ion transport</text>
<text class="cl" transform="translate(401.6,1797) rotate(-90)">GO:0006280~anion transport</text>
<text class="cl" transform="translate(467.8,1797) rotate(-90)">GO:0019226~transmission of nerve impulse</text>
<text class="cl" transform="translate(534,1797) rotate(-90)">GO:0007626~locomotory behavior</text>
<text class="cl" transform="translate(600.2,1797) rotate(-90)">GO:0030001~metal ion transport</text>
<text class="cl" transform="translate(666.4,1797) rotate(-90)">GO:0007610~behavior</text>
<text class="cl" transform="translate(732.6,1797) rotate(-90)">GO:0007268~synaptic transmission</text>
<text class="cl" transform="translate(798.8,1797) rotate(-90)">GO:0007155~cell adhesion</text>
<text class="cl" transform="translate(865,1797) rotate(-90)">GO:0022610~biological adhesion</text>
<text class="cl" transform="translate(931.2,1797) rotate(-90)">GO:0050877~neurological system process</text>
<text class="cl" transform="translate(997.4,1797) rotate(-90)">GO:0006812~cation transport</text>
</g>
<g id="chartC">
<text class="pl" x="1069" y="1300">C</text>
<g class="bar">
<rect x="1232" y="1353.8" width="70" height="439.2"/>
<rect x="1339.5" y="1500.2" width="70" height="292.8"/>
<rect x="1447" y="1646.6" width="70" height="146.4"/>
<rect x="1554.5" y="1646.6" width="70" height="146.4"/>
<rect x="1662" y="1597.8" width="70" height="195.2"/>
<rect x="1769.5" y="1695.4" width="70" height="97.6"/>
<rect x="1877" y="1646.6" width="70" height="146.4"/>
</g>
<path class="ax" d="M1213 1305V1793H1966M1205 1305H1213M1205 1402.6H1213M1205 1500.2H1213M1205 1597.8H1213M1205 1695.4H1213M1205 1793H1213M1320.75 1793v8M1428.25 1793v8M1535.75 1793v8M1643.25 1793v8M1750.75 1793v8M1858.25 1793v8M1965.75 1793v8"/>
<polyline class="rl" points="1267,1675.9 1374.5,1681.2 1482,1694.4 1589.5,1694.4 1697,1702.7 1804.5,1703.7 1912,1703.7"/>
<g class="rd">
<circle cx="1267" cy="1675.9" r="5.5"/><circle cx="1374.5" cy="1681.2" r="5.5"/><circle cx="1482" cy="1694.4" r="5.5"/><circle cx="1589.5" cy="1694.4" r="5.5"/><circle cx="1697" cy="1702.7" r="5.5"/><circle cx="1804.5" cy="1703.7" r="5.5"/><circle cx="1912" cy="1703.7" r="5.5"/>
</g>
<text class="tk" x="1197" y="1316.5">10</text>
<text class="tk" x="1197" y="1414.1">8</text>
<text class="tk" x="1197" y="1511.7">6</text>
<text class="tk" x="1197" y="1609.3">4</text>
<text class="tk" x="1197" y="1706.9">2</text>
<text class="tk" x="1197" y="1804.5">0</text>
<text class="gc" transform="translate(1150,1552) rotate(-90)">Gene count</text>
<text class="cl" transform="translate(1278,1809) rotate(-90)">hsa05200:Pathways in cancer</text>
<text class="cl" transform="translate(1385.5,1809) rotate(-90)">hsa04020:Calcium signaling pathway</text>
<text class="cl" transform="translate(1493,1809) rotate(-90)">hsa05217:Basal cell carcinoma</text>
<text class="cl" transform="translate(1600.5,1809) rotate(-90)">hsa04340:Hedgehog signaling pathway</text>
<text class="cl" transform="translate(1708,1809) rotate(-90)">hsa04310:Wnt signaling pathway</text>
<text class="cl" transform="translate(1815.5,1809) rotate(-90)">hsa00534:Heparan sulfate biosynthesis</text>
<text class="cl" transform="translate(1923,1809) rotate(-90)">hsa04350:TGF-β signaling pathway</text>
</g>
</svg>
